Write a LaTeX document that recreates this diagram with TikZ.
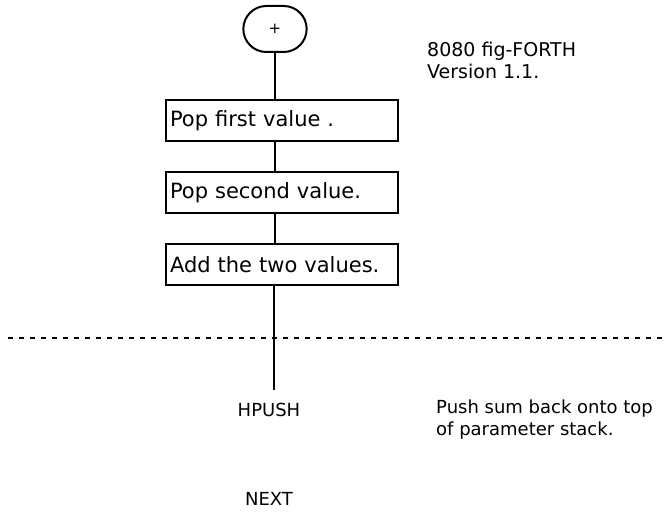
\documentclass[tikz,border=0pt]{standalone}
\usepackage{fontspec}
\setmainfont{DejaVu Sans}
\usetikzlibrary{shapes.misc}

\begin{document}
\begin{tikzpicture}[x=1pt,y=-1pt,
			every node/.style={font=\fontsize{18}{22}\selectfont},
			term/.style={draw,rounded rectangle,line width=2pt,minimum width=70pt,minimum height=46pt,font=\fontsize{15}{18}\selectfont},
			stepbox/.style={draw,line width=2pt,minimum width=232pt,minimum height=41pt,text width=224pt,align=left,inner sep=4pt,font=\fontsize{21}{25}\selectfont},
			flow/.style={line width=2pt},
			note/.style={anchor=west,align=left,inner sep=0pt}]
			\useasboundingbox (0,0) rectangle (665,518);
			\node[term] (start) at (275,29) {+};
			\node[stepbox] (pop1) at (282,121) {Pop first value .};
			\node[stepbox] (pop2) at (282,193) {Pop second value.};
			\node[stepbox] (add) at (282,265) {Add the two values.};
			\coordinate (hend) at (274,390);
			\draw[flow] (start.south) -- (start.south |- pop1.north);
			\draw[flow] (pop1.south -| start) -- (pop2.north -| start);
			\draw[flow] (pop2.south -| start) -- (add.north -| start);
			\draw[flow] (add.south -| hend) -- (hend);
			% code field boundary
			\coordinate (dl) at (8,338);
			\coordinate (dr) at (665,338);
			\draw[line width=2pt,dash pattern=on 5pt off 6pt] (dl) -- (dr);
			\node (hpush) at (269,410) {HPUSH};
			\node (next) at (269,499) {NEXT};
			\node[note] (pushnote) at (436,420) {Push sum back onto top\\of parameter stack.};
			\node[note,font=\fontsize{19}{22}\selectfont] (version) at (427,60) {8080 fig-FORTH\\Version 1.1.};
\end{tikzpicture}
\end{document}
